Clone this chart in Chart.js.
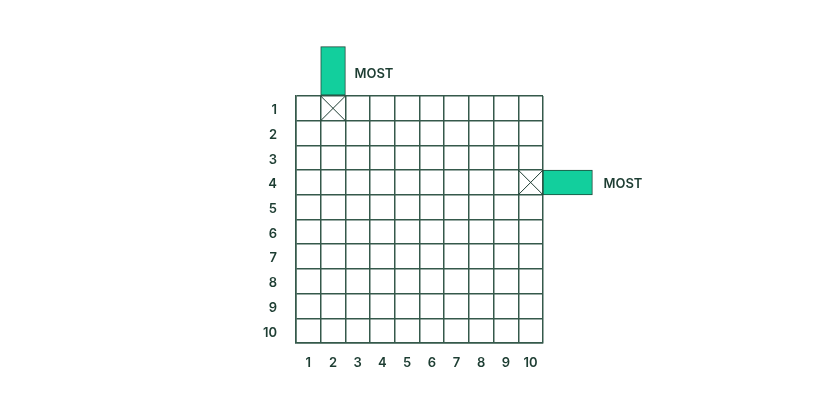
<!DOCTYPE html>
<html>
<head>
<meta charset="utf-8">
<script src="https://cdn.jsdelivr.net/npm/chart.js@4/dist/chart.umd.min.js"></script>
<style>
  html, body { margin: 0; padding: 0; background: #ffffff; }
  #wrap { width: 840px; height: 420px; }
</style>
</head>
<body>
<div id="wrap"><canvas id="grid"></canvas></div>
<script>
// 격자 라벨
const colLabels = ["1", "2", "3", "4", "5", "6", "7", "8", "9", "10"];
const rowLabels = ["1", "2", "3", "4", "5", "6", "7", "8", "9", "10"];

// X 표시된 칸 (열, 행) 과 거기서 뻗는 막대
const markCols = [2, 10];
const markRows = [1, 4];
const barDirections = ["up", "right"];
const barLengths = [2, 2];
const barLabels = ["MOST", "MOST"];

const INK = "#1d3d32";
const LINE = "#35594b";
const FILL = "#12cf9d";
const FONT = { family: "Inter, 'Open Sans', sans-serif", size: 13, weight: "600" };

const datasets = [];
markCols.forEach((c, i) => {
  const r = markRows[i];
  // 칸 안의 X 두 대각선
  datasets.push({
    type: "line",
    data: [{ x: c - 1, y: r - 1 }, { x: c, y: r }],
    borderColor: INK, borderWidth: 1, pointRadius: 0, fill: false,
    xAxisID: "x", yAxisID: "y"
  });
  datasets.push({
    type: "line",
    data: [{ x: c - 1, y: r }, { x: c, y: r - 1 }],
    borderColor: INK, borderWidth: 1, pointRadius: 0, fill: false,
    xAxisID: "x", yAxisID: "y"
  });
  // 칸에서 바깥으로 뻗는 막대
  const len = barLengths[i];
  const common = {
    type: "bar", backgroundColor: FILL, borderColor: "#1f4a3b", borderWidth: 1,
    borderSkipped: false, grouped: false, categoryPercentage: 1, barPercentage: 1, clip: false
  };
  if (barDirections[i] === "up") {
    datasets.push(Object.assign({}, common, {
      indexAxis: "x", xAxisID: "xc", yAxisID: "y",
      data: [{ x: colLabels[c - 1], y: [r - 1, r - 1 - len] }]
    }));
  } else {
    datasets.push(Object.assign({}, common, {
      indexAxis: "y", xAxisID: "x", yAxisID: "yc",
      data: [{ y: rowLabels[r - 1], x: [c, c + len] }]
    }));
  }
});

// 막대 끝에 MOST 글자
const barTextPlugin = {
  id: "barText",
  afterDatasetsDraw(chart) {
    const { ctx, scales: { x, y } } = chart;
    ctx.save();
    ctx.fillStyle = INK;
    ctx.font = `${FONT.weight} ${FONT.size}px ${FONT.family}`;
    ctx.textAlign = "left";
    ctx.textBaseline = "middle";
    markCols.forEach((c, i) => {
      const r = markRows[i];
      const len = barLengths[i];
      if (barDirections[i] === "up") {
        ctx.fillText(barLabels[i], x.getPixelForValue(c) + 9, y.getPixelForValue(r - 1 - len / 2) + 3);
      } else {
        ctx.fillText(barLabels[i], x.getPixelForValue(c + len) + 11, y.getPixelForValue(r - 0.5) + 2);
      }
    });
    ctx.restore();
  }
};

const halfTicks = (scale) => {
  const t = [];
  for (let v = 0; v <= 20; v++) t.push({ value: v / 2 });
  scale.ticks = t;
};

const gridColor = (ctx) => Number.isInteger(ctx.tick.value) ? LINE : "rgba(0,0,0,0)";

new Chart(document.getElementById("grid"), {
  type: "bar",
  data: { datasets },
  options: {
    responsive: true,
    maintainAspectRatio: false,
    animation: false,
    layout: { padding: { left: 250, top: 96, right: 297, bottom: 47 } },
    plugins: { legend: { display: false }, tooltip: { enabled: false } },
    scales: {
      x: {
        type: "linear", min: 0, max: 10, offset: false,
        afterBuildTicks: halfTicks,
        afterFit: (s) => { s.height = 30; },
        grid: { color: gridColor, lineWidth: 1.5, drawTicks: false, offset: false },
        border: { color: LINE, width: 1.5 },
        ticks: {
          autoSkip: false, maxRotation: 0, padding: 12, color: INK, font: FONT,
          callback: (v) => Number.isInteger(v) ? "" : colLabels[v - 0.5]
        }
      },
      y: {
        type: "linear", min: 0, max: 10, reverse: true, offset: false,
        afterBuildTicks: halfTicks,
        afterFit: (s) => { s.width = 46; },
        grid: { color: gridColor, lineWidth: 1.5, drawTicks: false, offset: false },
        border: { color: LINE, width: 1.5 },
        ticks: {
          autoSkip: false, padding: 19, labelOffset: 2, color: INK, font: FONT,
          callback: (v) => Number.isInteger(v) ? "" : rowLabels[v - 0.5]
        }
      },
      xc: { type: "category", labels: colLabels, offset: true, display: false, position: "bottom" },
      yc: { type: "category", labels: rowLabels, offset: true, display: false, position: "left" }
    }
  },
  plugins: [barTextPlugin]
});
</script>
</body>
</html>
